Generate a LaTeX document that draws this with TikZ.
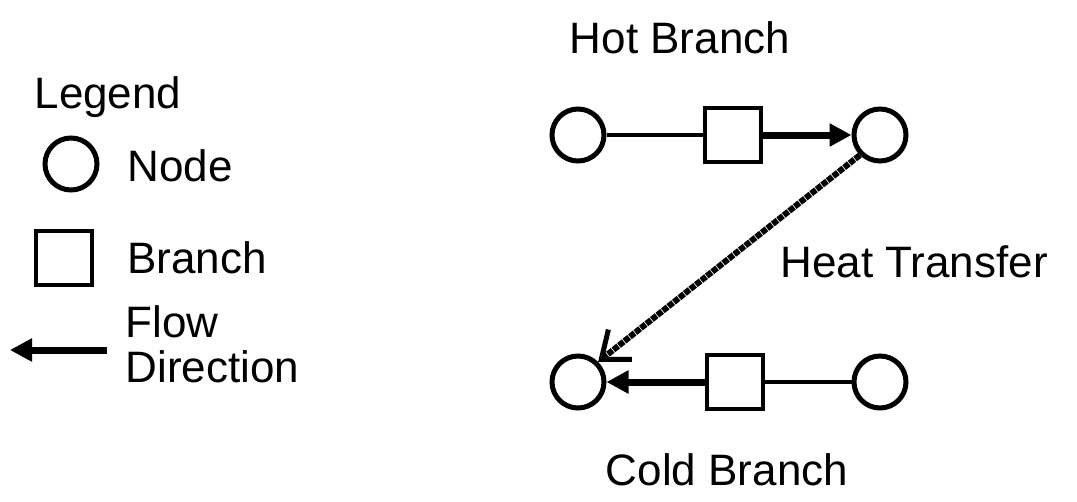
\documentclass[tikz,border=0pt]{standalone}
\usepackage{fontspec}
\setmainfont{Liberation Sans}
\usetikzlibrary{arrows.meta}

\begin{document}
\begin{tikzpicture}[x=1pt, y=-1pt,
    every node/.style={font=\fontsize{44}{45}\selectfont},
    knot/.style={draw, circle, line width=5pt, minimum size=52pt, inner sep=0pt},
    pipe/.style={draw, rectangle, line width=4pt, minimum width=56pt, minimum height=54pt, inner sep=0pt},
    flow/.style={line width=7pt, -{Triangle[length=22pt, width=22pt]}},
    link/.style={line width=4pt},
    heat/.style={line width=6pt, densely dotted, -{Straight Barb[length=24pt, width=38pt, line width=5pt]}}]
                \useasboundingbox (0,0) rectangle (1077,501);

                % legend
                \node (LT) at (108,97) {Legend};
                \node[knot] (LN) at (71,164) {};
                \node[anchor=west] (LNT) at (124,166) {Node};
                \node[pipe] (LB) at (64,258) {};
                \node[anchor=west] (LBT) at (124,258) {Branch};
                \coordinate (LF1) at (107,350);
                \coordinate (LF2) at (10,350);
                \draw[flow] (LF1) -- (LF2);
                \node[anchor=west, align=left] (LFT) at (122,344) {Flow\\Direction};

                % hot branch
                \node (HT) at (680,38) {Hot Branch};
                \node[knot] (H1) at (578,135) {};
                \node[pipe] (HB) at (733,135) {};
                \node[knot] (H2) at (880,135) {};
                \draw[link] (H1) -- (HB);
                \draw[flow] (HB) -- (H2);

                % cold branch
                \node (CT) at (727,470) {Cold Branch};
                \node[knot] (C1) at (578,382) {};
                \node[pipe] (CB) at (735,382) {};
                \node[knot] (C2) at (880,382) {};
                \draw[link] (C2) -- (CB);
                \draw[flow] (CB) -- (C1);

                % heat transfer
                \draw[heat] (H2.225) -- (C1.45);
                \node (XT) at (914,262) {Heat Transfer};
            \end{tikzpicture}
\end{document}
